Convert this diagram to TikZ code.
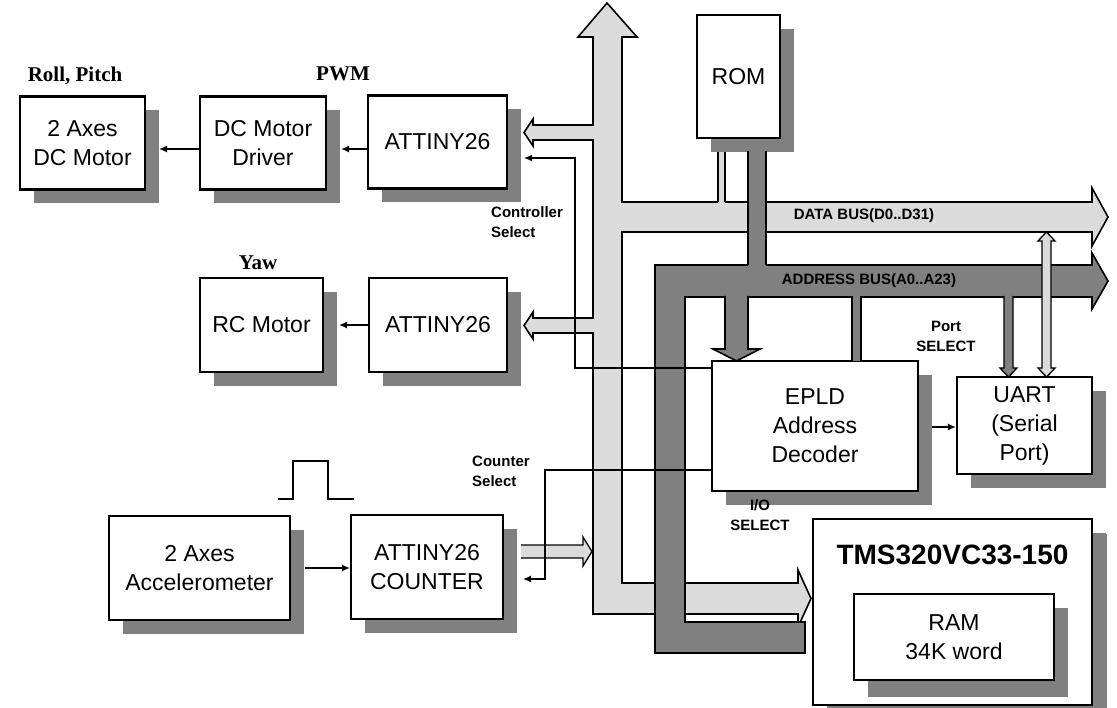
\documentclass[tikz,border=0pt]{standalone}
\usepackage{fontspec}
\setmainfont{Liberation Sans}
\newfontfamily\serf{Liberation Serif}
\usetikzlibrary{shadows,arrows.meta}
\definecolor{lightbus}{gray}{0.86}
\definecolor{darkbus}{gray}{0.50}
\definecolor{shade}{gray}{0.50}
\tikzset{
  blk/.style={draw, line width=2.2pt, fill=white, align=center, inner sep=0pt,
    font=\fontsize{23}{29}\selectfont,
    drop shadow={shadow xshift=14pt, shadow yshift=-14pt, fill=shade, opacity=1}},
  busL/.style={draw, fill=lightbus, line width=1.6pt, line join=miter},
  busD/.style={draw, fill=darkbus, line width=1.6pt, line join=miter},
  arr/.style={line width=1.3pt, -{Latex[length=8pt,width=7pt]}},
  lbl/.style={font=\fontsize{15}{20}\selectfont\bfseries, align=left, inner sep=0pt},
  ser/.style={font=\serf\fontsize{21}{25}\selectfont\bfseries, inner sep=0pt},
}
\begin{document}
\begin{tikzpicture}[x=1pt,y=-1pt]
\useasboundingbox (0,0) rectangle (1117,708);
% boxes
\node[blk, minimum width=125pt, minimum height=93pt] (mot) at (82.5,143) {2 Axes\\DC Motor};
\node[blk, minimum width=126pt, minimum height=93pt] (drv) at (263,143) {DC Motor\\Driver};
\node[blk, minimum width=139pt, minimum height=93pt] (att1) at (437.5,142) {ATTINY26};
\node[blk, minimum width=123pt, minimum height=94pt] (rc) at (261.5,325) {RC Motor};
\node[blk, minimum width=138pt, minimum height=94pt] (att2) at (438,325) {ATTINY26};
\node[blk, minimum width=181pt, minimum height=104pt] (acc) at (199.5,568) {2 Axes\\Accelerometer};
\node[blk, minimum width=152pt, minimum height=104pt] (cnt) at (427,567) {ATTINY26\\COUNTER};
\node[blk, minimum width=83pt, minimum height=123pt] (rom) at (738.5,76.5) {ROM};
\node[blk, minimum width=206pt, minimum height=130pt] (epld) at (815,426) {EPLD\\Address\\Decoder};
\node[blk, minimum width=135pt, minimum height=97pt] (uart) at (1024.5,425.5) {UART\\(Serial\\Port)};
\node[blk, minimum width=279pt, minimum height=186pt, drop shadow={shadow xshift=15pt, shadow yshift=-15pt, fill=shade, opacity=1}] (tms) at (952.5,612) {};
\node[font=\fontsize{28}{32}\selectfont\bfseries, inner sep=0pt] (tmst) at (952.5,555) {TMS320VC33-150};
\node[blk, minimum width=200pt, minimum height=86pt, drop shadow={shadow xshift=14pt, shadow yshift=-17pt, fill=shade, opacity=1}] (ram) at (954,637) {RAM\\34K word};

% labels
\node[ser] (lroll) at (75,76) {Roll, Pitch};
\node[ser] (lpwm) at (343,74) {PWM};
\node[ser] (lyaw) at (258,263) {Yaw};
\node[lbl, anchor=north west] (lctl) at (491,206) {Controller\\Select};
\node[lbl, anchor=north west] (lcnt) at (472,456) {Counter\\Select};
\node[lbl, align=center] (lport) at (946,336) {Port\\SELECT};

% data bus (light)
\draw[busL] (607,3) -- (637,37) -- (622,37) -- (622,202) -- (1092,202) -- (1092,188) -- (1108,217) -- (1092,246) -- (1092,232) -- (622,232) -- (622,583) -- (798,583) -- (798,570) -- (811,598.5) -- (798,627) -- (798,614) -- (593,614) -- (593,333) -- (533,333) -- (533,339) -- (524,325.5) -- (533,312) -- (533,318) -- (593,318) -- (593,140) -- (533,140) -- (533,146) -- (524,132.5) -- (533,119) -- (533,125) -- (593,125) -- (593,37) -- (578,37) -- cycle;
% counter to data bus
\draw[busL, line width=1.3pt] (521,545) -- (583,545) -- (583,537) -- (592,551.5) -- (583,566) -- (583,558) -- (521,558);
% ROM data connector
\fill[lightbus] (718,152) rectangle (725,203);
\draw[line width=1.3pt] (718,152) -- (718,202) (725,152) -- (725,202);

% address bus (dark)
\draw[busD] (655,265) -- (1092,265) -- (1092,253) -- (1108,281) -- (1092,309) -- (1092,297) -- (685,297) -- (685,622) -- (805,622) -- (805,653) -- (655,653) -- cycle;
% ROM address connector
\fill[darkbus] (748,151) rectangle (766,266);
\draw[line width=1.3pt] (748,151) -- (748,265) (766,151) -- (766,265);
% address to EPLD arrow
\draw[busD] (725,296) -- (725,349) -- (713,349) -- (736.5,361) -- (760,349) -- (748,349) -- (748,296);
% thin connector to EPLD
\fill[darkbus] (852,296) rectangle (861,361);
\draw[line width=1.3pt] (852,296) -- (852,361) (861,296) -- (861,361);
% port select
\draw[busD, line width=1.3pt] (1004,296) -- (1004,368) -- (1000,368) -- (1008.5,377) -- (1017,368) -- (1013,368) -- (1013,296);
% UART data connector (double)
\draw[busL, line width=1.3pt] (1042,368) -- (1038,368) -- (1046.5,377) -- (1055,368) -- (1051,368) -- (1051,241) -- (1055,241) -- (1046.5,232) -- (1038,241) -- (1042,241) -- cycle;

% bus labels
\node[font=\fontsize{15}{17}\selectfont\bfseries, inner sep=0pt] (ldata) at (864,216) {DATA BUS(D0..D31)};
\node[font=\fontsize{15}{17}\selectfont\bfseries, inner sep=0pt] (laddr) at (869,281) {ADDRESS BUS(A0..A23)};

% signal lines
\draw[arr] ([yshift=-7pt]att1.west) -- ([xshift=14pt,yshift=-6pt]drv.east);
\draw[arr] ([yshift=-6pt]drv.west) -- ([xshift=13pt,yshift=-6pt]mot.east);
\draw[arr] (att2.west) -- ([xshift=15pt]rc.east);
\draw[arr] ([xshift=14pt]acc.east) -- (acc.east -| cnt.west);
\draw[arr] (epld.west |- 0,368) -| (575,158) -- (524,158);
\draw[arr] (epld.west |- 0,470) -| (545,579) -- (523,579);
\draw[arr] (932,427) -- (uart.west |- 0,427);

% pulse
\draw[line width=1.6pt] (278,499) -- (293,499) -- (293,461) -- (328,461) -- (328,499) -- (354,499);

% I/O SELECT
\node[lbl, align=center] (lio) at (760,515) {I/O\\SELECT};
\end{tikzpicture}
\end{document}
